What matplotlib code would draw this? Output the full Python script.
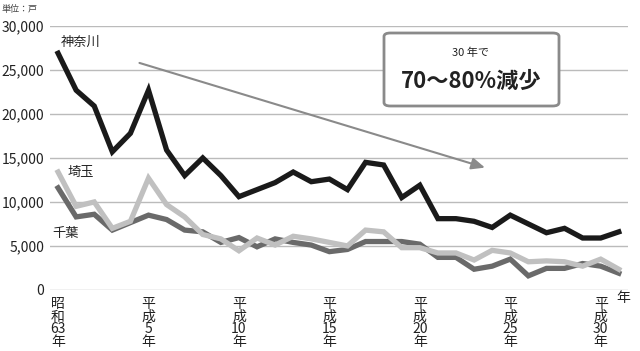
import matplotlib.pyplot as plt
from matplotlib.patches import FancyBboxPatch

plt.rcParams['font.family'] = ['Noto Sans CJK JP', 'DejaVu Sans']

# 昭和63年(1988) ～ 平成31年(2019)
years = list(range(32))

kanagawa = [26900, 22700, 20900, 15700, 17800, 22700, 15900, 13000, 15000, 13000,
            10600, 11400, 12200, 13400, 12300, 12600, 11400, 14500, 14200, 10500,
            11900, 8100, 8100, 7800, 7100, 8500, 7500, 6500, 7000, 5900,
            5900, 6600]
saitama = [13400, 9500, 10000, 7000, 7800, 12700, 9700, 8300, 6300, 5800,
           4450, 5900, 5100, 6100, 5800, 5400, 5000, 6800, 6600, 4800,
           4800, 4200, 4200, 3400, 4500, 4200, 3200, 3300, 3200, 2700,
           3500, 2350]
chiba = [11600, 8300, 8600, 6800, 7650, 8500, 8000, 6800, 6600, 5400,
         5950, 4900, 5800, 5400, 5100, 4350, 4600, 5500, 5500, 5500,
         5200, 3700, 3700, 2350, 2700, 3500, 1600, 2450, 2450, 3000,
         2700, 1900]

tick_pos = [0, 5, 10, 15, 20, 25, 30]
tick_labels = ['昭\n和\n63\n年', '平\n成\n5\n年', '平\n成\n10\n年', '平\n成\n15\n年',
               '平\n成\n20\n年', '平\n成\n25\n年', '平\n成\n30\n年']
y_ticks = [0, 5000, 10000, 15000, 20000, 25000, 30000]

fig = plt.figure(figsize=(6.4, 3.51), dpi=100)
ax = fig.add_axes([0.078, 0.174, 0.903, 0.752])

ax.plot(years, chiba, color='#6a6a6a', lw=3.8, solid_joinstyle='miter', zorder=3)
ax.plot(years, saitama, color='#c0c0c0', lw=3.8, solid_joinstyle='miter', zorder=4)
ax.plot(years, kanagawa, color='#1a1a1a', lw=3.8, solid_joinstyle='miter', zorder=5)

ax.set_xlim(-0.45, 31.5)
ax.set_ylim(0, 30000)
ax.set_yticks(y_ticks)
ax.set_yticklabels([f'{v:,}' for v in y_ticks], fontsize=10, color='#222222')
ax.set_xticks(tick_pos)
ax.set_xticklabels(tick_labels, fontsize=10, linespacing=0.88, color='#222222', va='top')
ax.tick_params(axis='x', length=0, pad=5)
ax.tick_params(axis='y', length=0, pad=4)
ax.grid(axis='y', color='#bbbbbb', lw=1)
for s in ax.spines.values():
    s.set_visible(False)
ax.set_axisbelow(True)

# labels
ax.text(0.15, 28100, '神奈川', fontsize=9.5, color='#222222', ha='left', va='center')
ax.text(0.55, 13300, '埼玉', fontsize=9.5, color='#222222', ha='left', va='center')
ax.text(-0.3, 6450, '千葉', fontsize=9.5, color='#222222', ha='left', va='center')
fig.text(0.002, 0.985, '単位：戸', fontsize=6.5, color='#444444', ha='left', va='top')
fig.text(0.985, 0.152, '年', fontsize=10, color='#222222', ha='right', va='center')

# trend arrow
ax.annotate('', xy=(23.6, 13900), xytext=(4.5, 25800),
            arrowprops=dict(arrowstyle='-|>,head_length=0.8,head_width=0.35',
                            color='#8a8a8a', lw=1.5, shrinkA=0, shrinkB=0), zorder=6)

# callout box
box = FancyBboxPatch((384 / 640, 1 - 106 / 351), 175 / 640, 73 / 351,
                     boxstyle='round,pad=0,rounding_size=0.01',
                     transform=fig.transFigure, facecolor='white',
                     edgecolor='#8a8a8a', lw=2, zorder=10)
fig.patches.append(box)
fig.text(471 / 640, 1 - 53 / 351, '30 年で', fontsize=8, color='#222222',
         ha='center', va='center', zorder=11)
fig.text(471 / 640, 1 - 81 / 351, '70～80%減少', fontsize=16, fontweight='bold',
         color='#222222', ha='center', va='center', zorder=11)

fig.savefig('out.png', dpi=100)
